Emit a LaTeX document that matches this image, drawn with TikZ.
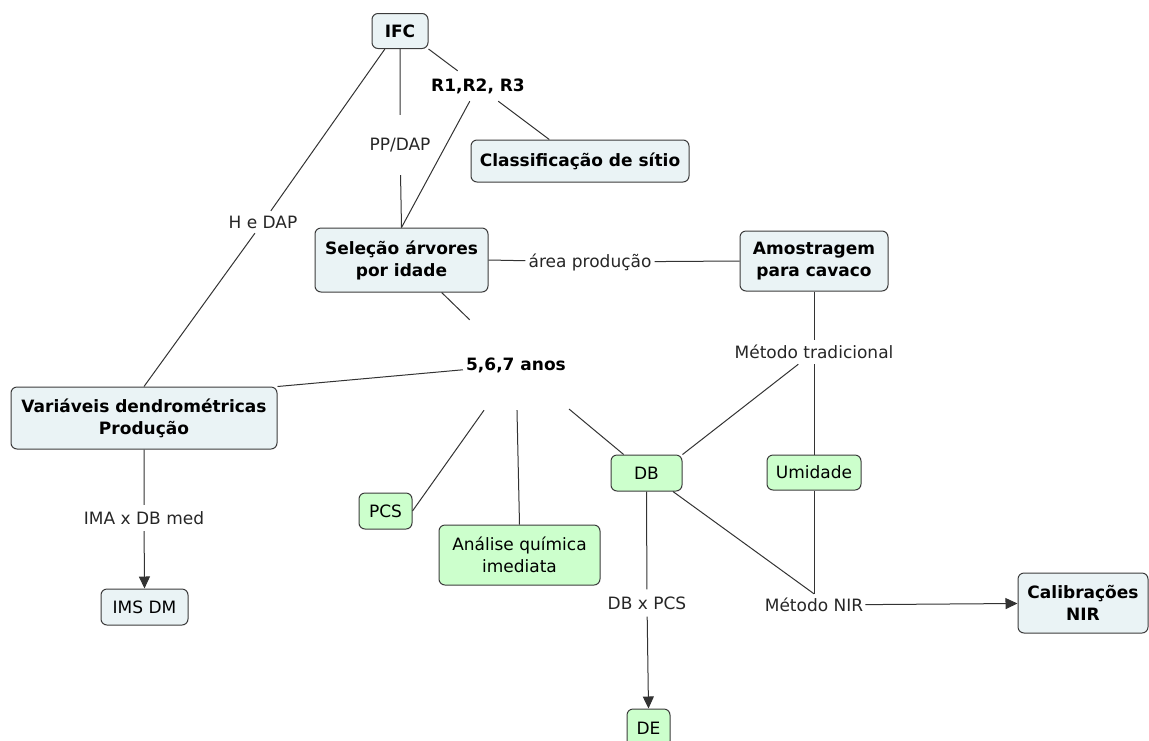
\documentclass[tikz,border=0pt]{standalone}
\usepackage{fontspec}
\setmainfont{DejaVu Sans}
\usetikzlibrary{arrows.meta}
\definecolor{bluefill}{RGB}{234,243,245}
\definecolor{greenfill}{RGB}{204,255,204}
\definecolor{edgecol}{RGB}{51,51,51}
\definecolor{boxline}{RGB}{60,60,60}
\begin{document}
\begin{tikzpicture}[x=1pt,y=-1pt,
  concept/.style={draw=boxline, line width=1pt, rounded corners=6pt, align=center, inner sep=0pt, font=\fontsize{17}{22}\selectfont},
  bluebox/.style={concept, fill=bluefill},
  greenbox/.style={concept, fill=greenfill},
  boldtext/.style={font=\fontsize{17}{22}\selectfont\bfseries},
  lbl/.style={inner xsep=2pt, inner ysep=0pt, align=center, font=\fontsize{17}{21}\selectfont, text=black!85},
  link/.style={draw=edgecol, line width=1pt},
  arr/.style={link, -{Triangle[length=12pt,width=11pt]}}
]
\useasboundingbox (0,0) rectangle (1149,740);
\clip (0,0) rectangle (1149,740);

% concepts
\node[bluebox, boldtext, minimum width=56pt, minimum height=35pt] (ifc) at (400,31) {IFC};
\node[bluebox, boldtext, minimum width=218pt, minimum height=42pt] (clas) at (580,161) {Classificação de sítio};
\node[bluebox, boldtext, minimum width=173pt, minimum height=64pt] (sel) at (401.5,260) {Seleção árvores\\por idade};
\node[bluebox, boldtext, minimum width=148pt, minimum height=60pt] (amo) at (814,261) {Amostragem\\para cavaco};
\node[bluebox, boldtext, minimum width=266pt, minimum height=62pt] (var) at (144,418) {Variáveis dendrométricas\\Produção};
\node[greenbox, minimum width=71pt, minimum height=36pt] (db) at (646.5,473) {DB};
\node[greenbox, minimum width=94pt, minimum height=35pt] (umi) at (814,472.5) {Umidade};
\node[greenbox, minimum width=53pt, minimum height=36pt] (pcs) at (385.5,511) {PCS};
\node[greenbox, minimum width=161pt, minimum height=60pt] (ana) at (519.5,555) {Análise química\\imediata};
\node[bluebox, minimum width=87pt, minimum height=36pt] (ims) at (144.5,607) {IMS DM};
\node[bluebox, boldtext, minimum width=130pt, minimum height=60pt] (cal) at (1083,603) {Calibrações\\NIR};
\node[greenbox, minimum width=43pt, minimum height=38pt] (de) at (648.5,728) {DE};

% linking phrases
\node[lbl, minimum height=22pt] (hdap) at (263,222) {H e DAP};
\node[lbl, minimum height=60pt] (ppdap) at (400,145) {PP/DAP};
\node[lbl, boldtext, text=black, minimum height=30pt] (r123) at (478,86) {R1,R2, R3};
\node[lbl, minimum height=20pt, inner xsep=3pt] (area) at (590,262) {área produção};
\node[lbl, boldtext, text=black, minimum height=90pt, inner xsep=3pt] (anos) at (516,365) {5,6,7 anos};
\node[lbl, minimum height=24pt] (mtrad) at (814,352) {Método tradicional};
\node[lbl, minimum height=22pt] (mnir) at (814,605) {Método NIR};
\node[lbl, minimum height=26pt] (imadb) at (144,518) {IMA x DB med};
\node[lbl, minimum height=27pt] (dbpcs) at (647,603) {DB x PCS};

% connectors
\draw[link] (ifc.230) -- (hdap) -- (var.north);
\draw[link] (ifc.south) -- (ppdap) -- (sel.north);
\draw[link] (ifc.south east) -- (r123);
\draw[link] (r123) -- (clas.145);
\draw[link] (r123) -- (sel.north);
\draw[link] (sel.east) -- (area) -- (amo.west);
\draw[link] (sel.-39) -- (anos);
\draw[link] (anos) -- (var.north east);
\draw[link] (anos) -- (pcs.east);
\draw[link] (anos) -- (ana.north);
\draw[link] (anos) -- (db.141);
\draw[link] (amo.south) -- (mtrad) -- (umi.north);
\draw[link] (mtrad) -- (db.north east);
\draw[link] (umi.south) -- (mnir.north);
\draw[link] (db.-35) -- (mnir.north);
\draw[arr] (mnir) -- (cal);
\draw[arr] (var.south) -- (imadb) -- (ims.north);
\draw[arr] (db.south) -- (dbpcs) -- (de.north);
\end{tikzpicture}
\end{document}
